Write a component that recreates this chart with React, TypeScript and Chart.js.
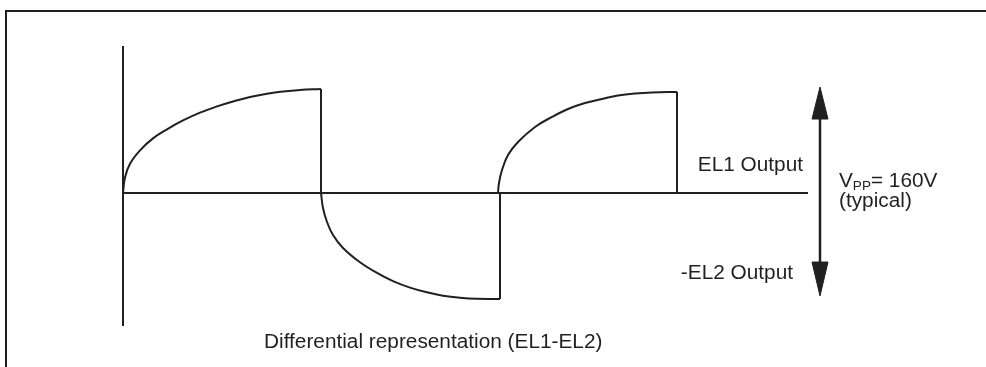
import React, { useEffect, useRef } from "react";
import { Chart, registerables } from "chart.js";

Chart.register(...registerables);

// Time axis (arbitrary units) and voltage axis (V)
const pulse1T = [0, 1, 3.5, 8.5, 15, 22, 30, 38.5, 47, 55, 63.5, 72, 80, 88.5, 99];
const pulse1V = [0, 12, 22.5, 32.8, 42, 49, 55.8, 61.8, 66.6, 70.4, 73.9, 76.4, 78.1, 79.3, 80];

const pulse2T = [99, 100, 102, 105, 110, 118.5, 127, 135, 143.5, 152, 160, 168.5, 177, 188.5];
const pulse2V = [0, -11.5, -22.3, -32.3, -42.3, -53.3, -61.5, -67.8, -72.8, -76.4, -79.0, -80.6, -81.4, -81.5];

const pulse3T = [187.5, 188, 189.5, 192.5, 197.5, 206, 214.5, 222.5, 231, 239.5, 247.5, 256, 264.5, 277];
const pulse3V = [0, 7.7, 17.7, 29.2, 39.2, 50.8, 58.5, 64.6, 69.2, 72.3, 75.0, 76.6, 77.4, 77.7];

// vertical transitions [t, vFrom, vTo]
const edgeT = [99, 188.5, 277];
const edgeFromV = [80, -81.5, 77.7];
const edgeToV = [0, 0, 0];

// axes
const axisT = [0, 0];
const axisV = [113.1, -102.3];
const baselineT = [0, 342.5];
const baselineV = [0, 0];

// Vpp arrow
const arrowT = 348.5;
const arrowShaftV = [56.9, -53.1];
const arrowTipV = [81.5, -79.2];
const arrowBaseV = [56.9, -53.1];
const arrowHalfWidth = 4;

// frame
const frameT = [-58.5, -58.5, 480];
const frameV = [-200, 140, 140];

// text labels
const labelEL1 = "EL1 Output";
const labelEL2 = "-EL2 Output";
const labelDiff = "Differential representation (EL1-EL2)";
const labelVpp = ["V", "PP", "= 160V"];
const labelTypical = "(typical)";

const X_MIN = -61.5;
const X_MAX = 431.5;
const Y_MIN = -133.85;
const Y_MAX = 148.46;

const INK = "#231f20";
const FONT = '"Liberation Sans", Arial, Helvetica, sans-serif';

const pts = (xs: number[], ys: number[]) => xs.map((x, i) => ({ x, y: ys[i] }));

const textPlugin = {
  id: "labels",
  afterDatasetsDraw(chart: any) {
    const { ctx, scales } = chart;
    const xs = scales.x;
    const ys = scales.y;
    const sx = 1.04;
    const draw = (t: string, x: number, y: number, align: "left" | "right", size = 20) => {
      ctx.save();
      ctx.font = `${size}px ${FONT}`;
      ctx.fillStyle = INK;
      ctx.textBaseline = "alphabetic";
      const w = ctx.measureText(t).width * sx;
      const left = align === "left" ? x : x - w;
      ctx.translate(left, y);
      ctx.scale(sx, 1);
      ctx.textAlign = "left";
      ctx.fillText(t, 0, 0);
      ctx.restore();
      return w;
    };
    draw(labelEL1, xs.getPixelForValue(340), ys.getPixelForValue(16.9), "right");
    draw(labelEL2, xs.getPixelForValue(335), ys.getPixelForValue(-66.2), "right");
    draw(labelDiff, xs.getPixelForValue(70.5), ys.getPixelForValue(-119.2), "left");
    let vx = xs.getPixelForValue(358);
    const vy = ys.getPixelForValue(4.6);
    vx += draw(labelVpp[0], vx, vy, "left");
    vx += draw(labelVpp[1], vx, vy + 3, "left", 13);
    draw(labelVpp[2], vx, vy, "left");
    draw(labelTypical, xs.getPixelForValue(358), ys.getPixelForValue(-10.8), "left");
  },
};

export default function App() {
  const ref = useRef<HTMLCanvasElement | null>(null);
  useEffect(() => {
    if (!ref.current) return;
    const line = (data: any[], extra: any = {}) => ({
      data,
      borderColor: INK,
      borderWidth: 2,
      pointRadius: 0,
      fill: false,
      tension: 0,
      ...extra,
    });
    const datasets: any[] = [
      line(pts(frameT, frameV)),
      line(pts(axisT, axisV)),
      line(pts(baselineT, baselineV)),
      line(pts(pulse1T, pulse1V), { tension: 0.4 }),
      line(pts(pulse2T, pulse2V), { tension: 0.4 }),
      line(pts(pulse3T, pulse3V), { tension: 0.4 }),
      ...edgeT.map((t, i) => line(pts([t, t], [edgeFromV[i], edgeToV[i]]))),
      line(pts([arrowT, arrowT], arrowShaftV), { borderWidth: 2.5 }),
      ...arrowTipV.map((tip, i) =>
        line(
          pts(
            [arrowT - arrowHalfWidth, arrowT, arrowT + arrowHalfWidth, arrowT - arrowHalfWidth],
            [arrowBaseV[i], tip, arrowBaseV[i], arrowBaseV[i]]
          ),
          { fill: "shape", backgroundColor: INK, borderWidth: 1 }
        )
      ),
    ];
    const chart = new Chart(ref.current, {
      type: "line",
      data: { datasets },
      options: {
        animation: false,
        responsive: false,
        devicePixelRatio: 1,
        layout: { padding: 0 },
        plugins: { legend: { display: false }, tooltip: { enabled: false } },
        scales: {
          x: { type: "linear", min: X_MIN, max: X_MAX, display: false },
          y: { type: "linear", min: Y_MIN, max: Y_MAX, display: false },
        },
      },
      plugins: [textPlugin],
    } as any);
    return () => chart.destroy();
  }, []);
  return (
    <div style={{ position: "fixed", left: 0, top: 0, width: 986, height: 367, background: "#fff" }}>
      <canvas ref={ref} width={986} height={367} style={{ display: "block" }} />
    </div>
  );
}
